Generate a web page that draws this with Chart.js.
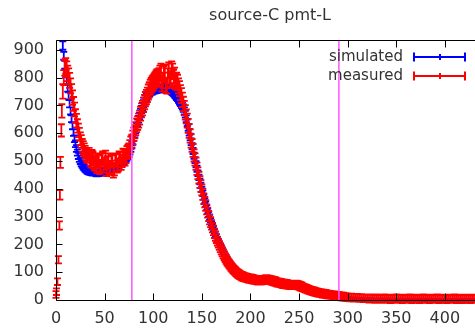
<!DOCTYPE html>
<html>
<head>
<meta charset="utf-8">
<script src="https://cdn.jsdelivr.net/npm/chart.js@4.4.1/dist/chart.umd.min.js"></script>
<style>
  html, body { margin: 0; padding: 0; background: #fff; overflow: hidden; }
  #wrap { width: 475px; height: 328px; }
</style>
</head>
<body>
<div id="wrap"><canvas id="plot" width="475" height="328"></canvas></div>
<script>
// bin centres (x), shared by both histograms
const bins = [
  0, 0.5, 1.5, 2.5, 3.5, 4, 4.5, 5.5, 6, 7, 8, 9, 10, 11, 12, 13,
  14, 15, 16, 17, 18, 19, 20, 21, 22, 23,
  24, 25, 26, 27, 28, 29, 30, 31, 32, 33,
  34, 35, 36, 37, 38, 39, 40, 41, 42, 43,
  44, 45, 46, 47, 48, 49, 50, 51, 52, 53,
  54, 55, 56, 57, 58, 59, 60, 61, 62, 63,
  64, 65, 66, 67, 68, 69, 70, 71, 72, 73,
  74, 75, 76, 77, 78, 79, 80, 81, 82, 83,
  84, 85, 86, 87, 88, 89, 90, 91, 92, 93,
  94, 95, 96, 97, 98, 99, 100, 101, 102, 103,
  104, 105, 106, 107, 108, 109, 110, 111, 112, 113,
  114, 115, 116, 117, 118, 119, 120, 121, 122, 123,
  124, 125, 126, 127, 128, 129, 130, 131, 132, 133,
  134, 135, 136, 137, 138, 139, 140, 141, 142, 143,
  144, 145, 146, 147, 148, 149, 150, 151, 152, 153,
  154, 155, 156, 157, 158, 159, 160, 161, 162, 163,
  164, 165, 166, 167, 168, 169, 170, 171, 172, 173,
  174, 175, 176, 177, 178, 179, 180, 181, 182, 183,
  184, 185, 186, 187, 188, 189, 190, 191, 192, 193,
  194, 195, 196, 197, 198, 199, 200, 201, 202, 203,
  204, 205, 206, 207, 208, 209, 210, 211, 212, 213,
  214, 215, 216, 217, 218, 219, 220, 221, 222, 223,
  224, 225, 226, 227, 228, 229, 230, 231, 232, 233,
  234, 235, 236, 237, 238, 239, 240, 241, 242, 243,
  244, 245, 246, 247, 248, 249, 250, 251, 252, 253,
  254, 255, 256, 257, 258, 259, 260, 261, 262, 263,
  264, 265, 266, 267, 268, 269, 270, 271, 272, 273,
  274, 275, 276, 277, 278, 279, 280, 281, 282, 283,
  284, 285, 286, 287, 288, 289, 290, 291, 292, 293,
  294, 295, 296, 297, 298, 299, 300,
  302, 304, 306, 308, 310, 312, 314, 316, 318, 320,
  322, 324, 326, 328, 330, 332, 334, 336, 338, 340,
  342, 344, 346, 348, 350, 352, 354, 356, 358, 360,
  362, 364, 366, 368, 370, 372, 374, 376, 378, 380,
  382, 384, 386, 388, 390, 392, 394, 396, 398, 400,
  402, 404, 406, 408, 410, 412, 414, 416, 418, 420,
  422, 424, 426, 428, 430
];

const simulated = [
  null, null, null, null, null, null, null, null, 955, 915, 878, 846, 815, 788, 762, 734,
  706, 680, 652, 626, 602, 580, 562, 545, 530, 518,
  508, 500, 492, 486, 480, 476, 472, 469, 466, 464,
  462, 461, 460, 459, 458, 458, 458, 457, 456, 457,
  457, 458, 459, 460, 461, 462, 463, 464, 465, 466,
  468, 469, 470, 471, 473, 474, 476, 478, 480, 482,
  484, 486, 489, 491, 494, 497, 500, 503, 507, 512,
  518, 525, 534, 545, 557, 570, 584, 597, 611, 624,
  637, 650, 662, 674, 685, 696, 706, 715, 723, 730,
  736, 741, 745, 748, 751, 753, 755, 756, 757, 758,
  759, 760, 761, 762, 762, 763, 763, 763, 763, 762,
  762, 761, 760, 758, 756, 753, 750, 746, 742, 738,
  733, 728, 722, 716, 710, 704, 698, 690, 680, 668,
  652, 637, 620, 603, 586, 569, 553, 536, 519, 503,
  488, 472, 456, 441, 426, 412, 398, 384, 370, 357,
  345, 332, 320, 308, 297, 286, 276, 266, 256, 247,
  238, 229, 220, 212, 204, 196, 189, 181, 174, 167,
  161, 154, 148, 142, 137, 132, 127, 122, 118, 114,
  110, 106, 102, 99, 96, 93, 90, 88, 86, 84,
  82, 81, 80, 79, 78, 77, 76, 75, 75, 74,
  75, 74, 73, 72, 72, 71, 71, 70, 70, 70,
  70, 70, 70, 70, 70, 69, 69, 68, 68, 67,
  67, 66, 66, 65, 64, 63, 62, 61, 60, 59,
  59, 58, 57, 56, 56, 55, 55, 54, 54, 53,
  53, 52, 52, 51, 50, 49, 48, 47, 46, 45,
  43, 42, 41, 40, 38, 37, 36, 35, 34, 33,
  32, 31, 30, 29, 28, 27, 26, 25, 24, 23,
  22, 21, 20, 20, 19, 18, 17, 16, 16, 15,
  14, 13, 13, 12, 12, 11, 11, 10, 10, 9,
  9, 8, 8, 7, 7, 7, 7,
  6, 6, 6, 5, 5, 5, 5, 4, 4, 4,
  4, 4, 3, 3, 3, 3, 3, 3, 3, 3,
  2, 2, 2, 2, 2, 2, 2, 2, 2, 2,
  2, 2, 2, 2, 2, 2, 2, 2, 2, 2,
  1, 1, 1, 1, 1, 1, 1, 1, 1, 1,
  1, 1, 1, 1, 1, 1, 1, 1, 1, 1,
  1, 1, 1, 1, 1
];
const simulatedErr = [
  0, 0, 0, 0, 0, 0, 0, 0, 15, 15, 14, 14, 14, 13, 13, 13,
  13, 13, 12, 12, 12, 12, 12, 12, 11, 11,
  11, 11, 11, 11, 11, 11, 11, 11, 11, 11,
  11, 11, 11, 11, 11, 11, 11, 11, 11, 11,
  11, 11, 11, 11, 11, 11, 11, 11, 11, 11,
  11, 11, 11, 11, 11, 11, 11, 11, 11, 11,
  11, 11, 11, 11, 11, 11, 11, 11, 11, 11,
  11, 11, 11, 12, 12, 12, 12, 12, 12, 12,
  12, 12, 12, 13, 13, 13, 13, 13, 13, 13,
  13, 13, 13, 13, 13, 14, 14, 14, 14, 14,
  14, 14, 14, 14, 14, 14, 14, 14, 14, 14,
  14, 14, 14, 14, 14, 14, 14, 14, 14, 14,
  14, 13, 13, 13, 13, 13, 13, 13, 13, 12,
  12, 12, 12, 12, 12, 12, 11, 11, 11, 11,
  11, 11, 10, 10, 10, 10, 10, 10, 9, 9,
  9, 9, 9, 9, 9, 8, 8, 8, 8, 8,
  8, 7, 7, 7, 7, 7, 7, 7, 7, 7,
  6, 6, 6, 6, 6, 6, 6, 6, 6, 6,
  6, 6, 5, 5, 5, 5, 5, 5, 5, 5,
  5, 5, 5, 5, 5, 5, 5, 5, 5, 5,
  5, 5, 5, 5, 5, 5, 5, 5, 5, 5,
  5, 5, 5, 5, 5, 5, 5, 5, 5, 5,
  5, 5, 5, 5, 5, 5, 5, 5, 5, 5,
  5, 5, 5, 5, 5, 5, 5, 5, 5, 5,
  5, 5, 5, 5, 5, 5, 5, 5, 5, 5,
  5, 5, 5, 5, 5, 5, 5, 5, 5, 5,
  4, 4, 4, 4, 4, 4, 4, 4, 4, 4,
  4, 4, 4, 4, 4, 4, 4, 4, 4, 4,
  4, 4, 4, 4, 4, 4, 4, 4, 4, 4,
  4, 4, 4, 4, 4, 4, 4,
  3, 3, 3, 3, 3, 3, 3, 3, 3, 3,
  3, 3, 3, 3, 3, 3, 3, 3, 3, 3,
  3, 3, 3, 3, 3, 3, 3, 3, 3, 3,
  3, 3, 3, 3, 3, 3, 3, 3, 3, 3,
  3, 3, 3, 3, 3, 3, 3, 3, 3, 3,
  3, 3, 3, 3, 3, 3, 3, 3, 3, 3,
  3, 3, 3, 3, 3
];

const measured = [
  20, 30, 66, 145, 268, 378, 495, 610, 680, 750, 800, 835, 842, 830, 815, 805,
  790, 770, 750, 728, 705, 685, 662, 645, 626, 610,
  596, 580, 570, 556, 548, 540, 532, 522, 515, 525,
  525, 505, 498, 518, 512, 492, 486, 505, 478, 498,
  500, 475, 482, 505, 512, 480, 490, 515, 468, 495,
  505, 472, 478, 500, 498, 462, 470, 505, 502, 480,
  485, 512, 510, 490, 500, 522, 520, 505, 515, 530,
  536, 540, 552, 565, 572, 585, 596, 605, 616, 628,
  636, 645, 656, 670, 682, 690, 702, 712, 722, 730,
  738, 748, 756, 765, 772, 778, 782, 788, 792, 798,
  802, 795, 806, 815, 822, 778, 790, 812, 818, 772,
  770, 805, 826, 790, 795, 830, 822, 800, 808, 785,
  790, 782, 770, 760, 746, 735, 720, 705, 690, 675,
  660, 645, 626, 608, 590, 572, 556, 538, 520, 505,
  490, 472, 456, 440, 424, 410, 396, 380, 364, 352,
  340, 326, 314, 302, 290, 280, 270, 260, 250, 240,
  230, 221, 212, 204, 196, 188, 180, 173, 166, 159,
  152, 146, 140, 135, 130, 125, 120, 116, 112, 108,
  105, 101, 98, 95, 93, 90, 88, 86, 85, 83,
  82, 81, 80, 79, 78, 77, 77, 76, 75, 74,
  73, 73, 72, 71, 70, 70, 70, 71, 71, 72,
  72, 73, 74, 74, 73, 73, 72, 71, 70, 69,
  68, 67, 66, 64, 63, 62, 62, 61, 60, 59,
  58, 58, 57, 57, 56, 55, 55, 54, 54, 54,
  54, 55, 55, 55, 54, 53, 52, 50, 49, 47,
  45, 44, 42, 41, 40, 38, 37, 35, 34, 33,
  32, 31, 30, 29, 28, 27, 26, 25, 25, 24,
  23, 23, 22, 22, 21, 20, 20, 19, 19, 18,
  18, 17, 17, 16, 16, 15, 15, 14, 14, 13,
  13, 12, 12, 11, 11, 10, 10,
  9, 9, 8, 8, 8, 7, 7, 6, 6, 6,
  5, 6, 5, 4, 6, 5, 4, 5, 6, 4,
  5, 3, 5, 4, 6, 4, 5, 3, 4, 5,
  4, 6, 3, 5, 4, 5, 3, 4, 6, 4,
  5, 3, 4, 5, 4, 6, 3, 4, 5, 4,
  3, 5, 4, 4, 6, 3, 5, 4, 3, 5,
  4, 5, 3, 4, 5
];
const measuredErr = [
  12, 12, 12, 13, 15, 17, 20, 22, 24, 26, 27, 28, 28, 28, 28, 28,
  27, 27, 26, 26, 25, 25, 24, 24, 24, 24,
  23, 23, 23, 23, 23, 23, 22, 22, 22, 22,
  22, 22, 22, 22, 22, 22, 22, 22, 22, 22,
  22, 22, 22, 22, 22, 22, 22, 22, 22, 22,
  22, 22, 22, 22, 22, 22, 22, 22, 22, 22,
  22, 22, 22, 22, 22, 22, 22, 22, 23, 23,
  23, 23, 23, 23, 23, 24, 24, 24, 24, 24,
  24, 25, 25, 25, 25, 26, 26, 26, 26, 26,
  26, 27, 27, 27, 27, 27, 27, 27, 27, 28,
  28, 28, 28, 28, 28, 28, 28, 28, 28, 28,
  28, 28, 28, 28, 28, 28, 28, 28, 28, 28,
  28, 28, 27, 27, 27, 27, 26, 26, 26, 26,
  25, 25, 25, 25, 24, 24, 23, 23, 22, 22,
  22, 22, 21, 21, 21, 21, 20, 20, 19, 19,
  19, 18, 18, 18, 18, 18, 17, 17, 17, 17,
  17, 16, 16, 16, 16, 16, 16, 16, 16, 16,
  16, 16, 16, 15, 15, 15, 15, 15, 15, 15,
  15, 15, 15, 15, 15, 15, 15, 15, 15, 15,
  15, 15, 15, 15, 15, 15, 15, 15, 15, 15,
  15, 15, 15, 15, 15, 15, 15, 15, 15, 15,
  15, 15, 15, 15, 15, 15, 15, 15, 15, 15,
  15, 15, 15, 15, 15, 15, 15, 15, 15, 15,
  15, 15, 15, 15, 15, 15, 15, 15, 15, 15,
  15, 15, 15, 15, 15, 15, 15, 15, 15, 15,
  14, 14, 14, 14, 14, 14, 14, 14, 14, 14,
  14, 14, 14, 14, 14, 14, 14, 14, 14, 14,
  14, 14, 14, 14, 14, 14, 14, 14, 14, 14,
  14, 14, 14, 14, 14, 14, 14, 14, 14, 14,
  14, 14, 14, 14, 14, 14, 14,
  14, 14, 14, 14, 14, 14, 14, 14, 14, 14,
  14, 14, 14, 14, 14, 14, 14, 14, 14, 14,
  14, 14, 14, 14, 14, 14, 14, 14, 14, 14,
  14, 14, 14, 14, 14, 14, 14, 14, 14, 14,
  14, 14, 14, 14, 14, 14, 14, 14, 14, 14,
  14, 14, 14, 14, 14, 14, 14, 14, 14, 14,
  14, 14, 14, 14, 14
];

// vertical cut lines
const cutLines = [78, 291];

const xTicks = [0, 50, 100, 150, 200, 250, 300, 350, 400];
const yTicks = [0, 100, 200, 300, 400, 500, 600, 700, 800, 900];
const xMin = 0, xMax = 431;
const yMin = 0, yMax = 935;

const titleText = 'source-C pmt-L';
const seriesNames = ['simulated', 'measured'];
const seriesColors = ['#0000ff', '#ff0000'];
const cutColor = '#ff55ff';
const textColor = '#333';
const fontFamily = '"DejaVu Sans", sans-serif';

function toPoints(vals, errs) {
  const pts = [], e = [];
  bins.forEach((b, i) => {
    if (vals[i] === null) return;
    pts.push({ x: b, y: vals[i] });
    e.push(errs[i]);
  });
  return { pts, e };
}

const sim = toPoints(simulated, simulatedErr);
const meas = toPoints(measured, measuredErr);

const errorBars = {
  id: 'errorBars',
  beforeDatasetsDraw(chart) {
    const { ctx, chartArea } = chart;
    const xs = chart.scales.x, ys = chart.scales.y;
    ctx.save();
    ctx.beginPath();
    ctx.rect(0, chartArea.top, chart.width, chart.height - chartArea.top);
    ctx.clip();
    chart.data.datasets.forEach(ds => {
      if (!ds.errors) return;
      ctx.strokeStyle = ds.barColor;
      ctx.lineWidth = 1.8;
      ctx.beginPath();
      ds.data.forEach((p, i) => {
        const e = ds.errors[i];
        const px = xs.getPixelForValue(p.x);
        const y1 = ys.getPixelForValue(p.y + e);
        const y2 = ys.getPixelForValue(p.y - e);
        ctx.moveTo(px, y1); ctx.lineTo(px, y2);
        ctx.moveTo(px - 3.5, y1); ctx.lineTo(px + 3.5, y1);
        ctx.moveTo(px - 3.5, y2); ctx.lineTo(px + 3.5, y2);
      });
      ctx.stroke();
    });
    ctx.restore();
  }
};

const frame = {
  id: 'frame',
  afterDraw(chart) {
    const { ctx, chartArea: a } = chart;
    const xs = chart.scales.x, ys = chart.scales.y;
    ctx.save();
    ctx.strokeStyle = '#000';
    ctx.lineWidth = 1;
    ctx.beginPath();
    const L = Math.round(a.left) + 0.5, B = Math.round(a.bottom) + 0.5, T = Math.round(a.top) + 0.5;
    ctx.moveTo(a.right, T); ctx.lineTo(L, T); ctx.lineTo(L, B); ctx.lineTo(a.right, B);
    xs.ticks.forEach(t => {
      const px = Math.round(xs.getPixelForValue(t.value)) + 0.5;
      ctx.moveTo(px, B); ctx.lineTo(px, B - 7);
      ctx.moveTo(px, T); ctx.lineTo(px, T + 7);
    });
    ys.ticks.forEach(t => {
      const py = Math.round(ys.getPixelForValue(t.value)) + 0.5;
      ctx.moveTo(L, py); ctx.lineTo(L + 6, py);
    });
    ctx.stroke();

    // title
    ctx.fillStyle = textColor;
    ctx.font = '16px ' + fontFamily;
    ctx.textAlign = 'center';
    ctx.textBaseline = 'middle';
    ctx.fillText(titleText, 270, 16);

    // legend
    ctx.font = '15px ' + fontFamily;
    ctx.textAlign = 'right';
    seriesNames.forEach((name, i) => {
      const cy = 57 + i * 19;
      ctx.fillStyle = textColor;
      ctx.fillText(name, 403, cy);
      ctx.strokeStyle = seriesColors[i];
      ctx.lineWidth = 2;
      ctx.beginPath();
      ctx.moveTo(414, cy); ctx.lineTo(465, cy);
      ctx.moveTo(414, cy - 4.5); ctx.lineTo(414, cy + 4.5);
      ctx.moveTo(465, cy - 4.5); ctx.lineTo(465, cy + 4.5);
      ctx.moveTo(440, cy - 3); ctx.lineTo(440, cy + 3);
      ctx.stroke();
    });
    ctx.restore();
  }
};

const datasets = [
  { label: seriesNames[0], data: sim.pts, errors: sim.e, barColor: seriesColors[0],
    pointRadius: 0, showLine: false },
  { label: seriesNames[1], data: meas.pts, errors: meas.e, barColor: seriesColors[1],
    pointRadius: 0, showLine: false }
];
cutLines.forEach(c => {
  datasets.push({
    data: [{ x: c, y: yMin }, { x: c, y: yMax }],
    showLine: true, pointRadius: 0, borderColor: cutColor, borderWidth: 1.5
  });
});

new Chart(document.getElementById('plot'), {
  type: 'scatter',
  data: { datasets },
  options: {
    responsive: false,
    animation: false,
    layout: { padding: { top: 40, left: 0, right: 0, bottom: 0 } },
    plugins: { legend: { display: false }, title: { display: false }, tooltip: { enabled: false } },
    scales: {
      x: {
        type: 'linear', min: xMin, max: xMax,
        grid: { display: false, drawTicks: false },
        border: { display: false },
        ticks: { color: textColor, font: { family: fontFamily, size: 16 }, padding: 9, maxRotation: 0, autoSkip: false },
        afterBuildTicks: s => { s.ticks = xTicks.map(v => ({ value: v })); },
        afterFit: s => { s.height = 28; }
      },
      y: {
        type: 'linear', min: yMin, max: yMax,
        grid: { display: false, drawTicks: false },
        border: { display: false },
        ticks: { color: textColor, font: { family: fontFamily, size: 16 }, padding: 12, autoSkip: false },
        afterBuildTicks: s => { s.ticks = yTicks.map(v => ({ value: v })); },
        afterFit: s => { s.width = 56; }
      }
    }
  },
  plugins: [errorBars, frame]
});
</script>
</body>
</html>
